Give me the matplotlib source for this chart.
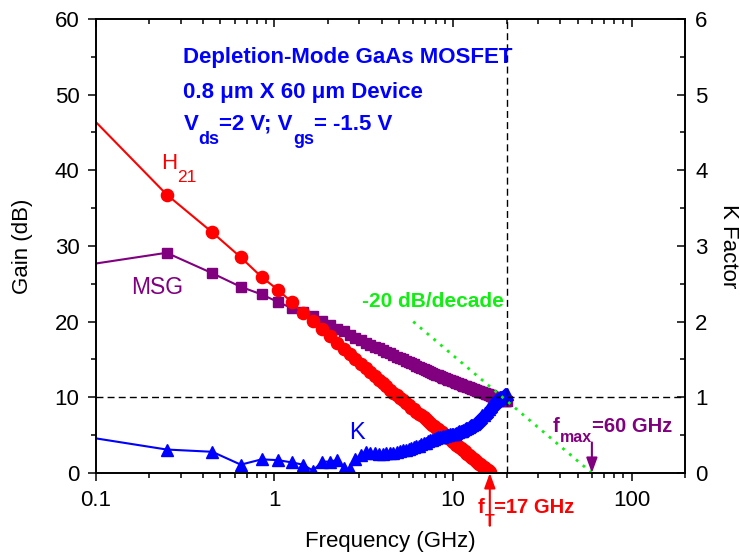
import numpy as np
import matplotlib
matplotlib.use("Agg")
import matplotlib.pyplot as plt
from matplotlib.ticker import MultipleLocator, NullFormatter, FuncFormatter

# measured sweep (GHz), 0.2 GHz steps
freq = [0.05, 0.25, 0.45, 0.65, 0.85, 1.05, 1.25, 1.45, 1.65, 1.85,
        2.05, 2.25, 2.45, 2.65, 2.85, 3.05, 3.25, 3.45, 3.65, 3.85,
        4.05, 4.25, 4.45, 4.65, 4.85, 5.05, 5.25, 5.45, 5.65, 5.85,
        6.05, 6.25, 6.45, 6.65, 6.85, 7.05, 7.25, 7.45, 7.65, 7.85,
        8.05, 8.25, 8.45, 8.65, 8.85, 9.05, 9.25, 9.45, 9.65, 9.85,
        10.05, 10.25, 10.45, 10.65, 10.85, 11.05, 11.25, 11.45, 11.65, 11.85,
        12.05, 12.25, 12.45, 12.65, 12.85, 13.05, 13.25, 13.45, 13.65, 13.85,
        14.05, 14.25, 14.45, 14.65, 14.85, 15.05, 15.25, 15.45, 15.65, 15.85,
        16.05, 16.25, 16.45, 16.65, 16.85, 17.05, 17.25, 17.45, 17.65, 17.85,
        18.05, 18.25, 18.45, 18.65, 18.85, 19.05, 19.25, 19.45, 19.65, 19.85,
        20.05]

# |H21|^2 in dB (stops at fT)
h21_db = [53.7, 36.8, 31.8, 28.5, 25.9, 24.2, 22.6, 21.1, 20.1, 19.0,
          18.1, 17.2, 16.4, 15.7, 15.0, 14.4, 13.85, 13.35, 12.85, 12.35,
          11.9, 11.45, 11.0, 10.6, 10.25, 9.9, 9.6, 9.25, 8.95, 8.65,
          8.4, 8.1, 7.85, 7.6, 7.35, 7.1, 6.85, 6.6, 6.4, 6.2,
          5.95, 5.75, 5.55, 5.35, 5.15, 5.0, 4.8, 4.6, 4.45, 4.25,
          4.1, 3.9, 3.75, 3.6, 3.45, 3.3, 3.15, 3.0, 2.85, 2.7,
          2.55, 2.4, 2.3, 2.15, 2.0, 1.9, 1.75, 1.6, 1.5, 1.35,
          1.25, 1.15, 1.0, 0.9, 0.8, 0.65, 0.55, 0.45, 0.35, 0.25,
          0.1]

# maximum stable gain (dB)
msg_db = [26.6, 29.1, 26.4, 24.6, 23.6, 22.6, 21.8, 21.3, 20.8, 20.1,
          19.5, 19.0, 18.7, 18.3, 17.9, 17.6, 17.2, 16.9, 16.7, 16.5,
          16.2, 16.0, 15.8, 15.55, 15.35, 15.15, 15.0, 14.85, 14.7, 14.5,
          14.35, 14.2, 14.05, 13.9, 13.75, 13.6, 13.5, 13.35, 13.25, 13.1,
          13.0, 12.9, 12.8, 12.7, 12.6, 12.5, 12.45, 12.35, 12.25, 12.2,
          12.1, 12.0, 11.95, 11.85, 11.8, 11.7, 11.65, 11.55, 11.5, 11.45,
          11.35, 11.3, 11.25, 11.2, 11.1, 11.05, 11.0, 10.95, 10.9, 10.85,
          10.8, 10.75, 10.7, 10.65, 10.6, 10.55, 10.5, 10.45, 10.4, 10.35,
          10.3, 10.25, 10.2, 10.15, 10.1, 10.05, 10.0, 9.95, 9.9, 9.9,
          9.85, 9.8, 9.75, 9.7, 9.7, 9.65, 9.6, 9.6, 9.55, 9.5,
          9.5]

# stability factor K
k_factor = [0.57, 0.31, 0.28, 0.11, 0.18, 0.17, 0.14, 0.11, 0.03, 0.15,
            0.15, 0.17, 0.06, 0.05, 0.19, 0.24, 0.28, 0.27, 0.26, 0.25,
            0.25, 0.26, 0.26, 0.27, 0.28, 0.29, 0.30, 0.31, 0.32, 0.33,
            0.34, 0.35, 0.36, 0.38, 0.39, 0.40, 0.42, 0.43, 0.44, 0.45,
            0.46, 0.47, 0.47, 0.48, 0.49, 0.49, 0.50, 0.50, 0.51, 0.51,
            0.52, 0.52, 0.53, 0.54, 0.55, 0.55, 0.56, 0.57, 0.58, 0.59,
            0.60, 0.61, 0.62, 0.63, 0.64, 0.65, 0.66, 0.67, 0.69, 0.70,
            0.71, 0.73, 0.74, 0.76, 0.77, 0.79, 0.80, 0.82, 0.84, 0.85,
            0.87, 0.88, 0.90, 0.91, 0.93, 0.94, 0.95, 0.96, 0.97, 0.98,
            0.99, 0.99, 1.00, 1.01, 1.01, 1.02, 1.02, 1.03, 1.04, 1.04,
            1.05]

# -20 dB/decade guide and markers
guide_f = [6.0, 60.0]
guide_db = [20.0, 0.0]
ft_arrow_ghz = 16.1
fmax_ghz = 60.0
f_limit_ghz = 20.0
unity_k = 1.0

plt.rcParams['font.family'] = ['Liberation Sans', 'DejaVu Sans']

RED = '#ff0000'
PURPLE = '#800080'
BLUE = '#0000ff'
GREEN = '#11ee11'

fig = plt.figure(figsize=(7.4, 5.53), dpi=100)
ax = fig.add_axes([0.1291, 0.1447, 0.797, 0.821])

ax.plot(freq, msg_db, color=PURPLE, marker='s', ms=7.8, lw=1.5)
ax.plot(freq[:len(h21_db)], h21_db, color=RED, marker='o', ms=8.8, lw=1.5)

ax.set_xscale('log')
ax.set_xlim(0.1, 200)
ax.set_ylim(0, 60)
ax.xaxis.set_major_formatter(FuncFormatter(lambda v, p: '%g' % v))
ax.xaxis.set_minor_formatter(NullFormatter())
ax.yaxis.set_major_locator(MultipleLocator(10))
ax.yaxis.set_minor_locator(MultipleLocator(5))
ax.tick_params(which='both', direction='out', top=False, right=False,
               width=1.1, labelsize=16)
ax.tick_params(which='major', length=6)
ax.tick_params(which='minor', length=3.5)
ax.tick_params(axis='y', pad=5.5)
ax.tick_params(axis='x', pad=6)
for s in ax.spines.values():
    s.set_linewidth(1.2)

ax.set_xlabel('Frequency (GHz)', fontsize=16)
ax.xaxis.set_label_coords(0.5, -0.15)
ax.xaxis.label.set_va('center')
ax.set_ylabel('Gain (dB)', fontsize=16)
ax.yaxis.set_label_coords(-0.123, 0.5)
ax.yaxis.label.set_va('center')

# right axis: K factor
ax2 = ax.twinx()
ax2.plot(freq, k_factor, color=BLUE, marker='^', ms=9, lw=1.5)
ax2.set_ylim(0, 6)
ax2.yaxis.set_major_locator(MultipleLocator(1))
ax2.yaxis.set_minor_locator(MultipleLocator(0.5))
ax2.xaxis.set_visible(True)
ax2.tick_params(axis='x', which='both', direction='in', top=True, bottom=False,
                labeltop=False, labelbottom=False, width=1.1)
ax2.tick_params(axis='y', which='both', direction='in', width=1.1,
                labelsize=16, pad=7)
ax2.tick_params(which='major', length=6)
ax2.tick_params(which='minor', length=3.5)
for s in ax2.spines.values():
    s.set_linewidth(1.2)
ax2.set_ylabel('K Factor', fontsize=16, rotation=270)
ax2.yaxis.set_label_coords(1.0724, 0.5)
ax2.yaxis.label.set_va('center')

ax2.axhline(unity_k, color='k', lw=1, ls=(0, (5, 3)))
ax2.axvline(f_limit_ghz, color='k', lw=1, ls=(0, (5, 3)))
ax2.plot(guide_f, guide_db, transform=ax.transData, color=GREEN, lw=2,
         ls=(0, (1, 2.2)))


def sub_text(x, y, base, sub, rest, size, subsize, drop, **kw):
    t0 = ax.text(x, y, base, transform=ax.transAxes, fontsize=size,
                 va='baseline', **kw)
    t1 = ax.annotate(sub, xy=(1, 0), xycoords=t0, xytext=(0, -drop),
                     textcoords='offset points', fontsize=subsize,
                     va='baseline', **kw)
    t2 = ax.annotate(rest, xy=(1, 0), xycoords=(t1, t0), fontsize=size,
                     va='bottom', **kw)
    return t2


# title block
hdr = dict(color=BLUE, fontweight='bold')
ax.text(0.149, 0.902, 'Depletion-Mode GaAs MOSFET', transform=ax.transAxes,
        fontsize=16, **hdr)
ax.text(0.149, 0.827, '0.8 \u03bcm X 60 \u03bcm Device', transform=ax.transAxes,
        fontsize=16, **hdr)
t = sub_text(0.149, 0.7555, 'V', 'ds', '=2 V; V', 16, 13, 6.7, **hdr)
tg = ax.annotate('gs', xy=(1, 0), xycoords=t, xytext=(0, -6.7),
                 textcoords='offset points', fontsize=13, va='baseline', **hdr)
ax.annotate('= -1.5 V', xy=(1, 0), xycoords=(tg, t), fontsize=16,
            va='bottom', **hdr)

# curve labels
sub_text(0.1105, 0.669, 'H', '21', '', 16, 12.5, 5.5, color=RED)
ax.text(0.0597, 0.394, 'MSG', transform=ax.transAxes, fontsize=16.5,
        color=PURPLE, va='baseline')
ax.text(0.430, 0.0742, 'K', transform=ax.transAxes, fontsize=17,
        color=BLUE, va='baseline')
ax.text(0.451, 0.365, '-20 dB/decade', transform=ax.transAxes, fontsize=15,
        color=GREEN, fontweight='bold', va='baseline')

sub_text(0.7757, 0.091, 'f', 'max', '=60 GHz', 14.5, 11.5, 4.8,
         color=PURPLE, fontweight='bold')
sub_text(0.6485, -0.0888, 'f', 'T', '=17 GHz', 14.5, 11.5, 6,
         color=RED, fontweight='bold')

ax.annotate('', xy=(ft_arrow_ghz, 0), xytext=(0, -38),
            textcoords='offset points', annotation_clip=False,
            arrowprops=dict(arrowstyle='-|>,head_length=0.6,head_width=0.22',
                            color=RED, lw=1.5, shrinkA=0, shrinkB=0,
                            mutation_scale=15))
ax.annotate('', xy=(fmax_ghz, 0), xytext=(0, 22),
            textcoords='offset points', annotation_clip=False,
            arrowprops=dict(arrowstyle='-|>,head_length=0.6,head_width=0.22',
                            color=PURPLE, lw=1.5, shrinkA=0, shrinkB=0,
                            mutation_scale=15))

fig.savefig('out.png', dpi=100)
